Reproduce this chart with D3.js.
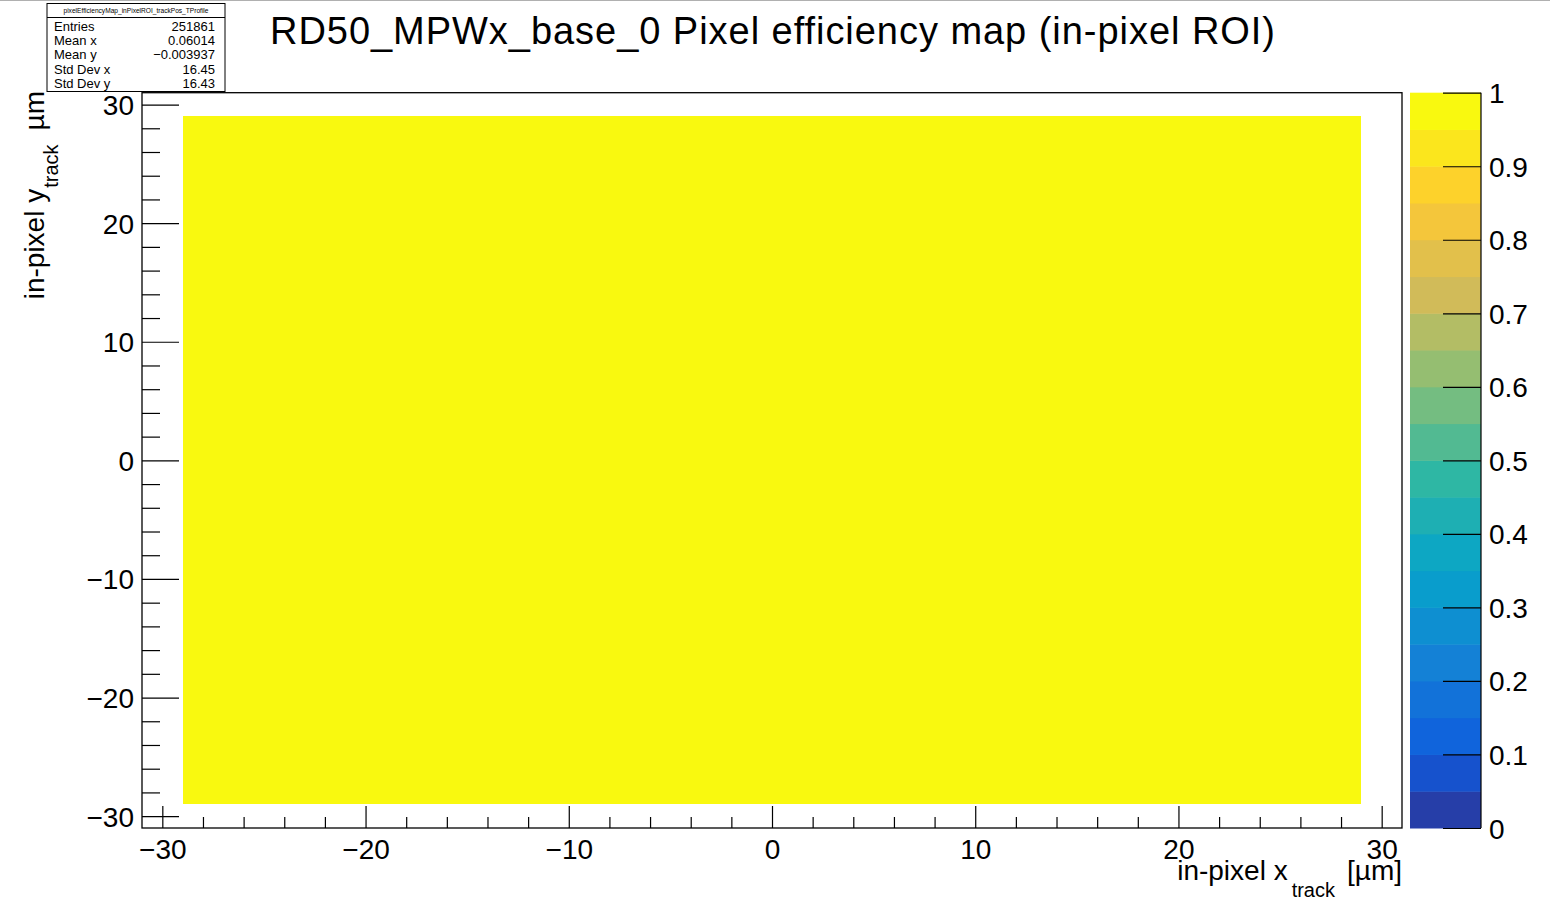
<!DOCTYPE html>
<html>
<head>
<meta charset="utf-8">
<script src="https://cdn.jsdelivr.net/npm/d3@7"></script>
<style>
  html, body { margin: 0; padding: 0; background: #fff; }
  svg { display: block; font-family: "Liberation Sans", Arial, Helvetica, sans-serif; }
  text { white-space: pre; }
</style>
</head>
<body>
<svg id="chart" width="1550" height="917"></svg>
<script>
// ---------------- data ----------------
const chartTitle = "RD50_MPWx_base_0 Pixel efficiency map (in-pixel ROI)";
const histName = "pixelEfficiencyMap_inPixelROI_trackPos_TProfile";
const statLabels = ["Entries", "Mean x", "Mean y", "Std Dev x", "Std Dev y"];
const statValues = ["251861", "0.06014", "\u22120.003937", "16.45", "16.43"];
// filled ROI cells (x0, x1, y0, y1 in µm) and their efficiency
const cellX0 = [-29];
const cellX1 = [29];
const cellY0 = [-29];
const cellY1 = [29];
const cellValue = [1.0];
const xDomain = [-31, 31];
const yDomain = [-31, 31];
const xMajorTicks = [-30, -20, -10, 0, 10, 20, 30];
const yMajorTicks = [-30, -20, -10, 0, 10, 20, 30];
const zTicks = [0, 0.1, 0.2, 0.3, 0.4, 0.5, 0.6, 0.7, 0.8, 0.9, 1];
const zDomain = [0, 1];
const nContours = 20;

// ---------------- ROOT kBird palette ----------------
const bStops = [0.0, 0.125, 0.25, 0.375, 0.5, 0.625, 0.75, 0.875, 1.0];
const bRed = [0.2082, 0.0592, 0.0780, 0.0232, 0.1802, 0.5301, 0.8186, 0.9956, 0.9764];
const bGreen = [0.1664, 0.3599, 0.5041, 0.6419, 0.7178, 0.7492, 0.7328, 0.7862, 0.9832];
const bBlue = [0.5293, 0.8684, 0.8385, 0.7914, 0.6425, 0.4662, 0.3499, 0.1968, 0.0539];
const NCOL = 255;
const palette = [];
for (let g = 1; g < bStops.length; g++) {
  const n = Math.floor(NCOL * bStops[g]) - Math.floor(NCOL * bStops[g - 1]);
  for (let c = 0; c < n; c++) {
    const r = bRed[g - 1] + c * (bRed[g] - bRed[g - 1]) / n;
    const gg = bGreen[g - 1] + c * (bGreen[g] - bGreen[g - 1]) / n;
    const b = bBlue[g - 1] + c * (bBlue[g] - bBlue[g - 1]) / n;
    palette.push(d3.rgb(Math.round(r * 255), Math.round(gg * 255), Math.round(b * 255)).formatHex());
  }
}
function bandColor(i) {
  const idx = Math.min(palette.length - 1, Math.floor((i + 0.99) * palette.length / nContours));
  return palette[idx];
}
function valueColor(v) {
  let i = Math.floor(0.01 + (v - zDomain[0]) * nContours / (zDomain[1] - zDomain[0]));
  if (i >= nContours) i = nContours - 1;
  if (i < 0) i = 0;
  return bandColor(i);
}

// ---------------- layout ----------------
const svg = d3.select("#chart");
const frame = { left: 142, right: 1402, top: 92.7, bottom: 828 };
const x = d3.scaleLinear().domain(xDomain).range([frame.left, frame.right]);
const y = d3.scaleLinear().domain(yDomain).range([frame.bottom, frame.top]);
const z = d3.scaleLinear().domain(zDomain).range([frame.bottom, frame.top]);

// top thin line of the window
svg.append("line").attr("x1", 0).attr("x2", 1550).attr("y1", 0.5).attr("y2", 0.5)
  .attr("stroke", "#b0b0b0").attr("stroke-width", 1);

// cells
svg.append("g").selectAll("rect").data(cellValue).join("rect")
  .attr("x", (d, i) => x(cellX0[i]))
  .attr("y", (d, i) => y(cellY1[i]))
  .attr("width", (d, i) => x(cellX1[i]) - x(cellX0[i]))
  .attr("height", (d, i) => y(cellY0[i]) - y(cellY1[i]))
  .attr("fill", d => valueColor(d))
  .attr("shape-rendering", "crispEdges");

// frame
svg.append("rect")
  .attr("x", frame.left).attr("y", frame.top)
  .attr("width", frame.right - frame.left).attr("height", frame.bottom - frame.top)
  .attr("fill", "none").attr("stroke", "#000").attr("stroke-width", 1.3);

// x axis
const xMinor = d3.range(-30, 31, 2).filter(v => !xMajorTicks.includes(v));
const xAxisMajor = d3.axisBottom(x).tickValues(xMajorTicks).tickSize(-22)
  .tickFormat(d => d3.format("d")(d).replace("-", "\u2212")).tickPadding(33);
const xAxisMinor = d3.axisBottom(x).tickValues(xMinor).tickSize(-11).tickFormat("");
const gxm = svg.append("g").attr("transform", `translate(0,${frame.bottom})`).call(xAxisMinor);
const gx = svg.append("g").attr("transform", `translate(0,${frame.bottom})`).call(xAxisMajor);
[gx, gxm].forEach(g => {
  g.select(".domain").remove();
  g.selectAll(".tick line").attr("stroke", "#000").attr("stroke-width", 1.2);
});
gx.selectAll(".tick text").attr("font-size", 28).attr("fill", "#000")
  .attr("dy", null).attr("y", 30.5).attr("font-family", "Liberation Sans, Arial, sans-serif");

// y axis
const yMinor = d3.range(-30, 31, 2).filter(v => !yMajorTicks.includes(v));
const yAxisMajor = d3.axisLeft(y).tickValues(yMajorTicks).tickSize(-37)
  .tickFormat(d => d3.format("d")(d).replace("-", "\u2212")).tickPadding(47);
const yAxisMinor = d3.axisLeft(y).tickValues(yMinor).tickSize(-18).tickFormat("");
const gym = svg.append("g").attr("transform", `translate(${frame.left},0)`).call(yAxisMinor);
const gy = svg.append("g").attr("transform", `translate(${frame.left},0)`).call(yAxisMajor);
[gy, gym].forEach(g => {
  g.select(".domain").remove();
  g.selectAll(".tick line").attr("stroke", "#000").attr("stroke-width", 1.2);
});
gy.selectAll(".tick text").attr("font-size", 28).attr("fill", "#000")
  .attr("dy", null).attr("x", -8).attr("y", 10).attr("font-family", "Liberation Sans, Arial, sans-serif");

// colour bar
const cb = { left: 1410, right: 1481 };
const bands = d3.range(nContours);
const bandStep = (zDomain[1] - zDomain[0]) / nContours;
svg.append("g").selectAll("rect").data(bands).join("rect")
  .attr("x", cb.left)
  .attr("y", i => z(zDomain[0] + (i + 1) * bandStep))
  .attr("width", cb.right - cb.left)
  .attr("height", i => z(zDomain[0] + i * bandStep) - z(zDomain[0] + (i + 1) * bandStep) + 0.5)
  .attr("fill", i => bandColor(i));
const zAxis = d3.axisRight(z).tickValues(zTicks).tickSize(-38).tickPadding(46)
  .tickFormat(d => d3.format("")(d));
const gz = svg.append("g").attr("transform", `translate(${cb.right},0)`).call(zAxis);
gz.select(".domain").attr("d", `M0,${frame.top}V${frame.bottom}`).attr("stroke", "#000").attr("stroke-width", 1.2);
gz.selectAll(".tick line").attr("stroke", "#000").attr("stroke-width", 1.2);
gz.selectAll(".tick text").attr("font-size", 28).attr("fill", "#000")
  .attr("dy", null).attr("x", 8).attr("y", 10).attr("font-family", "Liberation Sans, Arial, sans-serif");

// title
svg.append("text").attr("x", 772.5).attr("y", 44).attr("text-anchor", "middle")
  .attr("font-size", 38).attr("fill", "#000")
  .attr("textLength", 1005).attr("lengthAdjust", "spacing")
  .text(chartTitle);

// x axis title: "in-pixel x_{track} [µm]" right-aligned at frame right
(function () {
  const g = svg.append("g");
  const base = 880;
  const t1 = g.append("text").attr("font-size", 28).attr("y", base).text("in-pixel x");
  const t2 = g.append("text").attr("font-size", 20).attr("y", base + 17).text("track");
  const t3 = g.append("text").attr("font-size", 28).attr("y", base).text("[\u00b5m]");
  const w1 = t1.node().getComputedTextLength();
  const w2 = t2.node().getComputedTextLength();
  const w3 = t3.node().getComputedTextLength();
  const gap = 12;
  const end = 1401;
  const start = end - (w1 + w2 + gap + w3);
  t1.attr("x", start - 3);
  t2.attr("x", start + w1 + 1);
  t3.attr("x", start + w1 + 1 + w2 + gap);
})();

// y axis title: "in-pixel y_{track}  µm" rotated, ending at the frame top
(function () {
  const g = svg.append("g").attr("transform", "translate(44,0) rotate(-90)");
  const t1 = g.append("text").attr("font-size", 28).attr("y", 0).text("in-pixel y");
  const t2 = g.append("text").attr("font-size", 20).attr("y", 14).text("track");
  const t3 = g.append("text").attr("font-size", 28).attr("y", 0).text("\u00b5m");
  const w1 = t1.node().getComputedTextLength();
  const w2 = t2.node().getComputedTextLength();
  const w3 = t3.node().getComputedTextLength();
  const gap = 14;
  const end = -92;
  const start = end - (w1 + w2 + gap + w3);
  t1.attr("x", start);
  t2.attr("x", start + w1 + 1);
  t3.attr("x", start + w1 + 1 + w2 + gap);
})();

// stats box
(function () {
  const bx = 47, by = 3.5, bw = 178, bh = 88;
  const g = svg.append("g");
  g.append("rect").attr("x", bx).attr("y", by).attr("width", bw).attr("height", bh)
    .attr("fill", "#fff").attr("stroke", "#000").attr("stroke-width", 1);
  g.append("line").attr("x1", bx).attr("x2", bx + bw).attr("y1", 17.5).attr("y2", 17.5)
    .attr("stroke", "#000").attr("stroke-width", 1);
  g.append("text").attr("x", bx + bw / 2).attr("y", 13).attr("text-anchor", "middle")
    .attr("font-size", 6.6).attr("fill", "#000").text(histName);
  const rowY = d3.scaleLinear().domain([0, statLabels.length - 1]).range([30.7, 88]);
  g.selectAll("text.lab").data(statLabels).join("text").attr("class", "lab")
    .attr("x", 54).attr("y", (d, i) => rowY(i)).attr("font-size", 13).attr("fill", "#000").text(d => d);
  g.selectAll("text.val").data(statValues).join("text").attr("class", "val")
    .attr("x", 215).attr("y", (d, i) => rowY(i)).attr("text-anchor", "end")
    .attr("font-size", 13).attr("fill", "#000").text(d => d);
})();
</script>
</body>
</html>
